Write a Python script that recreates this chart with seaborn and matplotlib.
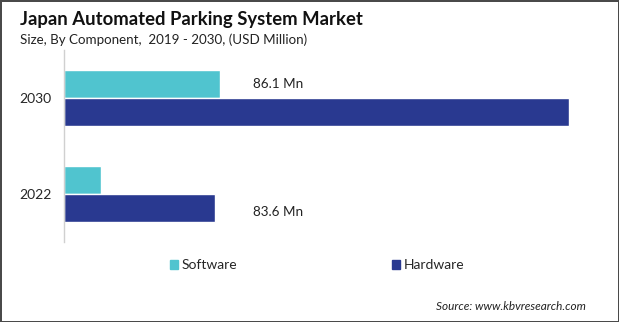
import matplotlib
matplotlib.use("Agg")
import matplotlib.pyplot as plt
import seaborn as sns
import pandas as pd
from matplotlib.patches import Patch

years = ["2030", "2022"]
components = ["Software", "Hardware"]
software = [86.1, 20.6]
hardware = [279.0, 83.6]
labels = {("2030", "Software"): "86.1 Mn", ("2022", "Hardware"): "83.6 Mn"}
colors = ["#50C4CF", "#293990"]

rows = []
for i, y in enumerate(years):
    rows.append({"Year": y, "Component": "Software", "Value": software[i]})
    rows.append({"Year": y, "Component": "Hardware", "Value": hardware[i]})
df = pd.DataFrame(rows)

sns.set_style("white")
plt.rcParams["font.family"] = ["Lato", "DejaVu Sans"]

fig = plt.figure(figsize=(6.19, 3.22), dpi=100)
fig.patch.set_edgecolor("#4a4a4a")
fig.patch.set_linewidth(2)
ax = fig.add_axes([64/619, 1-242/322, (600-64)/619, 192/322])

sns.barplot(data=df, y="Year", x="Value", hue="Component", order=years,
            hue_order=components, palette=colors, orient="h", width=0.575,
            ax=ax, legend=False, saturation=1)

ax.set_xlim(0, 296)
ax.set_ylim(1.5, -0.5)
ax.set_xlabel("")
ax.set_ylabel("")
ax.set_xticks([])
ax.tick_params(axis="y", length=0, labelsize=10, pad=9)
for s in ["top", "right", "bottom"]:
    ax.spines[s].set_visible(False)
ax.spines["left"].set_color("#d0d0d0")
ax.spines["left"].set_linewidth(1)

# value labels
for ci, comp in enumerate(components):
    cont = ax.containers[ci]
    for yi, y in enumerate(years):
        key = (y, comp)
        if key in labels:
            p = cont.patches[yi]
            dy = 0.04 if comp == "Hardware" else 0.0
            ax.text(104.5, p.get_y() + p.get_height()/2 + dy, labels[key],
                    va="center", ha="left", fontsize=9.7, color="#222222")

fig.text(20/619, 1-19/322, "Japan Automated Parking System Market",
         fontsize=13.3, fontweight="bold", va="center", ha="left", color="#111111")
fig.text(20/619, 1-40/322, "Size, By Component,  2019 - 2030, (USD Million)",
         fontsize=9.6, va="center", ha="left", color="#222222")

handles = [Patch(color=c, label=l) for c, l in zip(colors, components)]
leg = fig.legend(handles=handles, loc="center left", bbox_to_anchor=(170/619, 1-265/322),
                 ncol=2, frameon=False, fontsize=10, handlelength=0.6, handleheight=0.6,
                 handletextpad=0.25, columnspacing=11.1, borderpad=0, borderaxespad=0)

fig.text(586/619, 1-306/322, "Source: www.kbvresearch.com", fontsize=8.5,
         style="italic", ha="right", va="center", color="#222222")

fig.savefig("out.png", dpi=100)
